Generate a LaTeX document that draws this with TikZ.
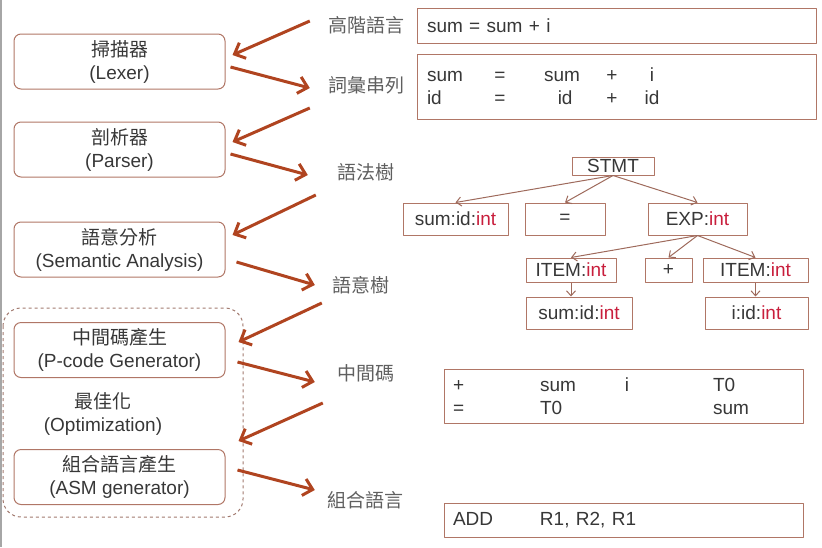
\documentclass[tikz,border=0pt]{standalone}
\usepackage{fontspec}
\setmainfont{Liberation Sans}
\newfontfamily\cjk{Noto Sans CJK TC}
\usepackage{tikz}
\usetikzlibrary{calc}
\usetikzlibrary{positioning}
\usetikzlibrary{arrows.meta}
\definecolor{flowred}{RGB}{176,68,32}
\definecolor{boxline}{RGB}{176,118,102}
\definecolor{txtgray}{RGB}{55,55,55}
\definecolor{lblgray}{RGB}{95,95,95}
\definecolor{intred}{RGB}{200,30,60}
\newcommand{\ty}{\textcolor{intred}{int}}

\begin{document}
\begin{tikzpicture}[x=1pt, y=-1pt, line join=round,
    every node/.style={font=\fontsize{19}{23}\selectfont, text=txtgray},
    stagebox/.style={draw=boxline, line width=1pt, rounded corners=7pt, minimum width=211pt, minimum height=55pt, align=center, inner sep=0pt},
    stagelbl/.style={text=lblgray, inner sep=0pt, font=\fontsize{19}{23}\selectfont\cjk},
    codebox/.style={draw=boxline, line width=1pt, align=left, inner ysep=0pt},
    treebox/.style={draw=boxline, line width=1pt, inner sep=0pt},
    flow/.style={flowred, line width=3pt, -{Straight Barb[length=9pt,width=17pt]}},
    treeedge/.style={boxline!90!black, line width=1pt, -{Straight Barb[length=5pt,width=9pt]}}]
  \useasboundingbox (0,0) rectangle (822,547);
  \draw[gray!70, line width=1.5pt] (1,0) -- (1,547);

  \node[stagebox] (lexer) at (119.5,61.5) {{\cjk 掃描器}\\(Lexer)};
  \node[stagebox] (parser) at (119.5,149.5) {{\cjk 剖析器}\\(Parser)};
  \node[stagebox] (sema) at (119.5,249.5) {{\cjk 語意分析}\\(Semantic Analysis)};
  \node[stagebox] (pgen) at (119.5,350) {{\cjk 中間碼產生}\\(P-code Generator)};
  \node[align=center, inner sep=0pt] (opt) at (103,414) {{\cjk 最佳化}\\(Optimization)};
  \node[stagebox] (asmgen) at (119.5,477) {{\cjk 組合語言產生}\\(ASM generator)};
  \draw[boxline!70!gray, line width=1pt, dashed, rounded corners=18pt] (3,308) rectangle (243,517);

  \node[stagelbl] (hilang) at (366,25) {高階語言};
  \node[stagelbl] (tokens) at (366,85) {詞彙串列};
  \node[stagelbl] (syntree) at (366,172) {語法樹};
  \node[stagelbl] (semtree) at (361,285) {語意樹};
  \node[stagelbl] (pcode) at (366,373) {中間碼};
  \node[stagelbl] (asmlang) at (365,500) {組合語言};

  \draw[flow] ([shift={(-18,-4)}]hilang.west) -- ([shift={(7,-6.5)}]lexer.east);
  \draw[flow] ([shift={(5,5.5)}]lexer.east) -- ([shift={(-18,3)}]tokens.west);
  \draw[flow] ([shift={(-18,23)}]tokens.west) -- ([shift={(7,-7.5)}]parser.east);
  \draw[flow] ([shift={(5,4.5)}]parser.east) -- ([shift={(-29.5,3)}]syntree.west);
  \draw[flow] ([shift={(-21.5,23)}]syntree.west) -- ([shift={(7,-14.5)}]sema.east);
  \draw[flow] ([shift={(11,12.5)}]sema.east) -- ([shift={(-17.5,0)}]semtree.west);
  \draw[flow] ([shift={(-10.5,18)}]semtree.west) -- ([shift={(13,-8)}]pgen.east);
  \draw[flow] ([shift={(12,12)}]pgen.east) -- ([shift={(-22.5,9)}]pcode.west);
  \draw[flow] ([shift={(-14.5,30)}]pcode.west) -- ([shift={(13,-8)}]asmgen.north east);
  \draw[flow] ([shift={(12,-7)}]asmgen.east) -- ([shift={(-12,-10)}]asmlang.west);

  \node[codebox, inner xsep=10pt, text width=379pt, minimum height=35pt] (src) at (616.5,25.5) {sum = sum + i};
  \node[codebox, inner xsep=10pt, text width=379pt, minimum height=65pt] (toks) at (616.5,86.5)
    {\makebox[46pt][l]{sum}\makebox[54pt]{=}\makebox[70pt]{sum}\makebox[30pt]{+}\makebox[50pt]{i}\\
     \makebox[46pt][l]{id}\makebox[54pt]{=}\makebox[70pt]{\,\,id}\makebox[30pt]{+}\makebox[50pt]{id}};

  \node[treebox, minimum width=82pt, minimum height=18pt] (stmt) at (613,166) {STMT};
  \node[treebox, minimum width=105pt, minimum height=32pt] (lhs) at (455.5,219) {sum:id:\ty};
  \node[treebox, minimum width=80pt, minimum height=32pt] (assign) at (565,219) {=};
  \node[treebox, minimum width=99pt, minimum height=32pt] (expr) at (697.5,219) {EXP:\ty};
  \node[treebox, minimum width=90pt, minimum height=24pt] (itema) at (571,270) {ITEM:\ty};
  \node[treebox, minimum width=47pt, minimum height=24pt] (plus) at (668.5,270) {+};
  \node[treebox, minimum width=105pt, minimum height=24pt] (itemb) at (755.5,270) {ITEM:\ty};
  \node[treebox, minimum width=106pt, minimum height=32pt] (suma) at (579,313) {sum:id:\ty};
  \node[treebox, minimum width=103pt, minimum height=32pt] (ida) at (756.5,313) {i:id:\ty};
  \foreach \kid in {lhs,assign,expr}
    \draw[treeedge] (stmt.south) -- (\kid.north);
  \foreach \kid in {itema,plus,itemb}
    \draw[treeedge] (expr.south) -- (\kid.north);
  \draw[treeedge] (itema.south) -- (itema.south |- suma.north);
  \draw[treeedge] (itemb.south) -- (itemb.south |- ida.north);

  \node[codebox, inner xsep=9pt, text width=341pt, minimum height=54pt] (ir) at (623.5,396)
    {\makebox[87pt][l]{+}\makebox[85pt][l]{sum}\makebox[88pt][l]{i}T0\\
     \makebox[87pt][l]{=}\makebox[85pt][l]{T0}\makebox[88pt][l]{}sum};
  \node[codebox, inner xsep=9pt, text width=341pt, minimum height=34pt] (asmcode) at (623.5,520)
    {\makebox[87pt][l]{ADD}R1, R2, R1};
\end{tikzpicture}
\end{document}
